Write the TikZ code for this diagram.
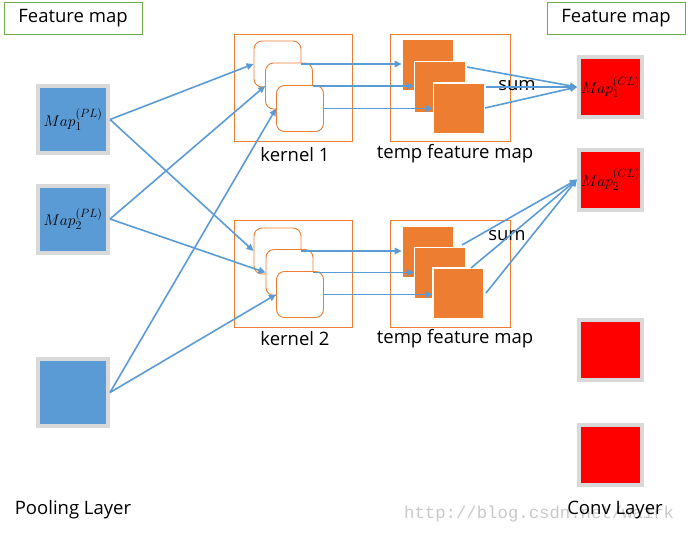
\documentclass[tikz,border=0pt]{standalone}
\usepackage{fix-cm}
\usepackage{fontspec}
\setmainfont{Open Sans}
\newfontfamily\wmfont{Liberation Mono}
\DeclareMathSizes{15.5}{15.5}{12}{9}
\usetikzlibrary{arrows.meta,calc}
\definecolor{blu}{HTML}{5B9BD5}
\definecolor{gry}{HTML}{D9D9D9}
\definecolor{wmg}{HTML}{C8C8C8}
\definecolor{org}{HTML}{ED7D31}
\definecolor{grn}{HTML}{70AD47}
\definecolor{redd}{HTML}{FF0000}
\begin{document}
\begin{tikzpicture}[x=1pt,y=-1pt,
  txt/.style={font=\fontsize{18.5}{22}\selectfont, inner sep=0pt},
  fmbox/.style={draw=grn, line width=1pt, minimum width=138pt, minimum height=32pt, inner sep=0pt, font=\fontsize{18.5}{22}\selectfont},
  plsq/.style={draw=gry, line width=4pt, fill=blu, minimum width=70pt, minimum height=67pt, inner sep=0pt, font=\fontsize{15.5}{18}\selectfont},
  clsq/.style={draw=gry, line width=4pt, fill=redd, minimum width=63pt, minimum height=60pt, inner sep=0pt, font=\fontsize{15.5}{18}\selectfont},
  kbox/.style={draw=org, line width=0.9pt, minimum width=118pt, minimum height=107pt, inner sep=0pt},
  krect/.style={draw=org, line width=0.9pt, fill=white, rounded corners=8pt, minimum width=47pt, minimum height=46pt, inner sep=0pt},
  osq/.style={fill=org, draw=white, line width=1.6pt, minimum size=51pt, inner sep=0pt},
  conn/.style={draw=blu, line width=1.6pt, -{Triangle[length=7pt,width=6.5pt]}}
]
\useasboundingbox (0,0) rectangle (686,533);

% watermark
\node[font=\wmfont\fontsize{17.3}{20}\selectfont, text=wmg, inner sep=0pt, anchor=west] (wm) at (404,514) {http://blog.csdn.net/wa1rk};

% feature map boxes
\node[fmbox] (fm1) at (73,18) {Feature map};
\node[fmbox] (fm2) at (616,18) {Feature map};

% pooling layer maps
\node[plsq] (p1) at (73,119.5) {$Map_1^{(PL)}$};
\node[plsq] (p2) at (73,219) {$Map_2^{(PL)}$};
\node[plsq] (p3) at (73,392.5) {};

% conv layer maps
\node[clsq] (c1) at (610.5,87) {$Map_1^{(CL)}$};
\node[clsq] (c2) at (610.5,179.5) {$Map_2^{(CL)}$};
\node[clsq] (c3) at (610.5,349.5) {};
\node[clsq] (c4) at (610.5,454.5) {};

% kernel 1
\node[kbox] (k1) at (293,87.5) {};
\node[krect] (k1a) at (277.5,64) {};
\node[krect] (k1b) at (289,86) {};
\node[krect] (k1c) at (300,108.5) {};
\node[txt] (k1l) at (295,155) {kernel 1};

% temp feature map 1
\node[kbox, minimum width=120pt] (t1) at (450,87.5) {};
\node[osq] (o1a) at (428,65) {};
\node[osq] (o1b) at (440,87) {};
\node[osq] (o1c) at (459,108.5) {};
\node[txt] (t1l) at (455,154) {temp feature map};

% kernel 2
\node[kbox] (k2) at (293,274) {};
\node[krect] (k2a) at (277.5,251) {};
\node[krect] (k2b) at (289.5,272.5) {};
\node[krect] (k2c) at (300,294.5) {};
\node[txt] (k2l) at (295,339) {kernel 2};

% temp feature map 2
\node[kbox, minimum width=120pt] (t2) at (450.5,274) {};
\node[osq] (o2a) at (428,252) {};
\node[osq] (o2b) at (440,273) {};
\node[osq] (o2c) at (458.5,293.5) {};
\node[txt] (t2l) at (455,339) {temp feature map};

% sum labels
\node[txt] (sum1) at (517,86) {sum};
\node[txt] (sum2) at (507,236) {sum};

% layer labels
\node[txt] (pll) at (73,510) {Pooling Layer};
\node[txt] (cll) at (615,510) {Conv Layer};

% inputs to kernels
\draw[conn] (p1.east) -- (k1a.west);
\draw[conn] (p1.east) -- (k2a.west);
\draw[conn] (p2.east) -- (k1b.west);
\draw[conn] (p2.east) -- (k2b.west);
\draw[conn] (p3.east) -- (k1c.west);
\draw[conn] (p3.east) -- (k2c.west);

% kernels to temp maps
\draw[conn] (k1a.east) -- (k1a.east -| o1a.west);
\draw[conn] (k1b.east) -- (k1b.east -| o1b.west);
\draw[conn] (k1c.east) -- (k1c.east -| o1c.west);
\draw[conn] (k2a.east) -- (k2a.east -| o2a.west);
\draw[conn] (k2b.east) -- (k2b.east -| o2b.west);
\draw[conn] (k2c.east) -- (k2c.east -| o2c.west);

% sums to conv maps
\coordinate (s11) at (467,67);
\coordinate (s12) at (486,87);
\coordinate (s13) at (485,108);
\coordinate (s21) at (462,245);
\coordinate (s22) at (471,268);
\coordinate (s23) at (486,293);
\draw[conn] (s11) -- (c1.west);
\draw[conn] (s12) -- (c1.west);
\draw[conn] (s13) -- (c1.west);
\draw[conn] (s21) -- (c2.west);
\draw[conn] (s22) -- (c2.west);
\draw[conn] (s23) -- (c2.west);
\end{tikzpicture}
\end{document}
